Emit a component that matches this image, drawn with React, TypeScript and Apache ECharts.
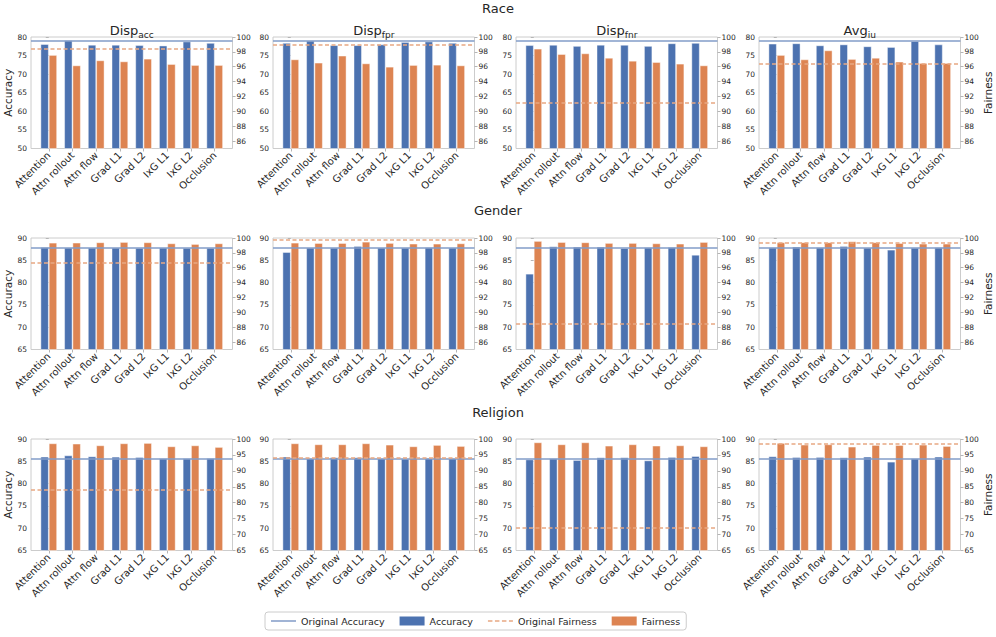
import React, { useEffect, useRef } from 'react';
import * as echarts from 'echarts';

const categories = ['Attention', 'Attn rollout', 'Attn flow', 'Grad L1', 'Grad L2', 'IxG L1', 'IxG L2', 'Occlusion'];
const rowNames = ['Race', 'Gender', 'Religion'];
const metricMain = ['Disp', 'Disp', 'Disp', 'Avg'];
const metricSub = ['acc', 'fpr', 'fnr', 'iu'];

// Original (baseline) accuracy per row
const originalAccuracy = [79.1, 87.83, 85.58];
// Original fairness per row, per metric column
const raceOriginalFairness = [98.38, 98.97, 91.15, 96.36];
const genderOriginalFairness = [96.73, 99.78, 88.43, 99.37];
const religionOriginalFairness = [84.22, 94.25, 72.1, 98.64];

// Race
const raceDispAccAccuracy = [78.1, 79.1, 77.9, 77.9, 77.8, 77.7, 78.8, 78.4];
const raceDispAccFairness = [97.58, 96.18, 96.86, 96.72, 97.08, 96.36, 96.23, 96.23];
const raceDispFprAccuracy = [78.4, 79.0, 77.8, 77.8, 78.0, 78.65, 78.8, 78.4];
const raceDispFprFairness = [96.99, 96.54, 97.49, 96.45, 96.0, 96.23, 96.27, 96.18];
const raceDispFnrAccuracy = [77.8, 77.9, 77.6, 77.9, 77.9, 77.6, 78.3, 78.4];
const raceDispFnrFairness = [98.43, 97.71, 97.8, 97.2, 96.8, 96.63, 96.41, 96.18];
const raceAvgIuAccuracy = [78.2, 78.3, 77.75, 78.0, 77.5, 77.3, 78.9, 78.0];
const raceAvgIuFairness = [97.58, 96.99, 98.2, 97.04, 97.2, 96.68, 96.5, 96.5];

// Gender
const genderDispAccAccuracy = [87.95, 87.85, 87.85, 87.85, 87.8, 87.85, 87.8, 87.8];
const genderDispAccFairness = [99.37, 99.37, 99.42, 99.46, 99.42, 99.28, 99.19, 99.28];
const genderDispFprAccuracy = [86.85, 87.83, 87.83, 88.2, 87.83, 87.83, 87.9, 87.83];
const genderDispFprFairness = [99.37, 99.33, 99.33, 99.5, 99.33, 99.24, 99.24, 99.28];
const genderDispFnrAccuracy = [81.99, 88.13, 88.05, 88.05, 87.75, 87.9, 87.98, 86.25];
const genderDispFnrFairness = [99.6, 99.46, 99.42, 99.33, 99.33, 99.28, 99.24, 99.46];
const genderAvgIuAccuracy = [87.9, 88.05, 87.9, 88.2, 87.83, 87.38, 87.83, 87.9];
const genderAvgIuFairness = [99.42, 99.42, 99.42, 99.55, 99.42, 99.33, 99.24, 99.24];

// Religion
const religionDispAccAccuracy = [86.03, 86.33, 86.1, 86.03, 85.96, 85.66, 85.66, 85.73];
const religionDispAccFairness = [98.64, 98.54, 98.01, 98.64, 98.75, 97.7, 98.0, 97.49];
const religionDispFprAccuracy = [86.03, 85.66, 85.88, 85.88, 85.66, 85.58, 85.73, 85.66];
const religionDispFprFairness = [98.64, 98.33, 98.33, 98.64, 98.22, 97.7, 98.12, 97.8];
const religionDispFnrAccuracy = [85.43, 85.66, 85.28, 85.88, 85.88, 85.2, 85.96, 86.18];
const religionDispFnrFairness = [98.95, 98.33, 98.95, 97.91, 98.33, 97.91, 98.01, 97.7];
const religionAvgIuAccuracy = [86.1, 85.96, 85.96, 85.88, 86.03, 84.91, 85.66, 86.03];
const religionAvgIuFairness = [98.75, 98.22, 98.33, 97.6, 98.12, 98.12, 98.22, 97.8];

// Axis ranges / ticks per row
const accuracyMin = [50, 65, 65];
const accuracyMax = [80, 90, 90];
const fairnessMin = [85, 85, 65];
const fairnessMax = [100, 100, 100];
const fairnessTicksRaceGender = [86, 88, 90, 92, 94, 96, 98, 100];
const fairnessTicksReligion = [65, 70, 75, 80, 85, 90, 95, 100];

const accuracyRows = [
  [raceDispAccAccuracy, raceDispFprAccuracy, raceDispFnrAccuracy, raceAvgIuAccuracy],
  [genderDispAccAccuracy, genderDispFprAccuracy, genderDispFnrAccuracy, genderAvgIuAccuracy],
  [religionDispAccAccuracy, religionDispFprAccuracy, religionDispFnrAccuracy, religionAvgIuAccuracy],
];
const fairnessRows = [
  [raceDispAccFairness, raceDispFprFairness, raceDispFnrFairness, raceAvgIuFairness],
  [genderDispAccFairness, genderDispFprFairness, genderDispFnrFairness, genderAvgIuFairness],
  [religionDispAccFairness, religionDispFprFairness, religionDispFnrFairness, religionAvgIuFairness],
];
const originalFairnessRows = [raceOriginalFairness, genderOriginalFairness, religionOriginalFairness];

const FONT = 'DejaVu Sans';
const TXT = '#262626';
const BLUE = '#4C72B0';
const ORANGE = '#DD8452';
const LBLUE = '#829cc8';
const LORANGE = '#e8a883';
const SPINE = '#cccccc';
const TICK = '#b5b5b5';

const colLeft = [31, 273, 516, 759];
const rowTop = [37, 238, 439];
const plotW = 201.5;
const plotH = 111.5;

// legend icons (25 x 9 box, thin line in the middle)
const ICON_SOLID = 'path://M0,0L0.01,0M0,3.7L25,3.7L25,5.3L0,5.3ZM0,9L0.01,9';
const ICON_DASHED =
  'path://M0,0L0.01,0M0,3.7L4.5,3.7L4.5,5.3L0,5.3ZM7,3.7L11.5,3.7L11.5,5.3L7,5.3ZM14,3.7L18.5,3.7L18.5,5.3L14,5.3ZM21,3.7L25,3.7L25,5.3L21,5.3ZM0,9L0.01,9';

function buildOption() {
  const grid: any[] = [];
  const xAxis: any[] = [];
  const yAxis: any[] = [];
  const series: any[] = [];
  const graphic: any[] = [];
  const xIdx = categories.map((_, i) => i);

  for (let r = 0; r < 3; r++) {
    for (let c = 0; c < 4; c++) {
      const p = r * 4 + c;
      grid.push({
        left: colLeft[c], top: rowTop[r], width: plotW, height: plotH,
        show: true, borderColor: SPINE, borderWidth: 1, backgroundColor: 'transparent',
      });
      xAxis.push({
        gridIndex: p, type: 'value', min: -0.75, max: 7.75,
        axisLine: { show: false },
        splitLine: { show: false },
        axisTick: { show: true, customValues: xIdx, length: 3, lineStyle: { color: TICK } },
        axisLabel: {
          customValues: xIdx, rotate: 45, fontSize: 10, fontFamily: FONT, color: TXT, margin: 5,
          formatter: (v: number) => categories[Math.round(v)],
        },
      });
      yAxis.push({
        gridIndex: p, type: 'value', position: 'left',
        min: accuracyMin[r], max: accuracyMax[r], interval: 5,
        axisLine: { show: false }, splitLine: { show: false },
        axisTick: { show: true, length: 3, lineStyle: { color: TICK } },
        axisLabel: { fontSize: 7.5, fontFamily: FONT, color: TXT, margin: 4 },
        name: c === 0 ? 'Accuracy' : '', nameLocation: 'middle', nameGap: 18,
        nameTextStyle: { fontSize: 10.5, fontFamily: FONT, color: TXT },
      });
      const fTicks = r < 2 ? fairnessTicksRaceGender : fairnessTicksReligion;
      yAxis.push({
        gridIndex: p, type: 'value', position: 'right',
        min: fairnessMin[r], max: fairnessMax[r],
        axisLine: { show: false }, splitLine: { show: false },
        axisTick: { show: true, length: 3, customValues: fTicks, lineStyle: { color: TICK } },
        axisLabel: { fontSize: 7.5, fontFamily: FONT, color: TXT, margin: 4, customValues: fTicks },
        name: c === 3 ? 'Fairness' : '', nameLocation: 'middle', nameGap: 19,
        nameTextStyle: { fontSize: 10.5, fontFamily: FONT, color: TXT },
      });
      const acc = accuracyRows[r][c];
      const fair = fairnessRows[r][c];
      series.push({
        type: 'bar', name: 'Accuracy', xAxisIndex: p, yAxisIndex: 2 * p,
        data: acc.map((v, i) => [i, v]),
        barWidth: '35%', barGap: '0%',
        itemStyle: { color: BLUE, borderColor: 'rgba(255,255,255,0.55)', borderWidth: 0.8 },
        emphasis: { disabled: true },
        markLine: {
          silent: true, symbol: ['none', 'none'], label: { show: false },
          lineStyle: { color: LBLUE, width: 1.5, type: 'solid' },
          data: [{ yAxis: originalAccuracy[r] }],
        },
      });
      series.push({
        type: 'bar', name: 'Fairness', xAxisIndex: p, yAxisIndex: 2 * p + 1,
        data: fair.map((v, i) => [i, v]),
        barWidth: '35%', barGap: '0%',
        itemStyle: { color: ORANGE, borderColor: 'rgba(255,255,255,0.55)', borderWidth: 0.8 },
        emphasis: { disabled: true },
        markLine: {
          silent: true, symbol: ['none', 'none'], label: { show: false },
          lineStyle: { color: LORANGE, width: 1.5, type: [4, 2.5] },
          data: [{ yAxis: originalFairnessRows[r][c] }],
        },
      });
    }
  }

  series.unshift({
    type: 'line', name: 'Original Accuracy', data: [], symbol: 'none',
    xAxisIndex: 0, yAxisIndex: 0,
    itemStyle: { color: LBLUE }, lineStyle: { color: LBLUE, width: 1.5 },
  });
  series.push({
    type: 'line', name: 'Original Fairness', data: [], symbol: 'none',
    xAxisIndex: 0, yAxisIndex: 1,
    itemStyle: { color: LORANGE }, lineStyle: { color: LORANGE, width: 1.5, type: [4, 2.5] },
  });

  const rowTitleY = [8, 210, 412];
  rowNames.forEach((name, r) => {
    graphic.push({
      type: 'text', x: 498, y: rowTitleY[r],
      style: { text: name, fontSize: 13, fontFamily: FONT, fill: TXT, align: 'center', verticalAlign: 'middle' },
    });
  });
  for (let c = 0; c < 4; c++) {
    graphic.push({
      type: 'text', x: colLeft[c] + plotW / 2, y: 30,
      style: {
        text: `{a|${metricMain[c]}}{b|${metricSub[c]}}`,
        align: 'center', verticalAlign: 'middle',
        rich: {
          a: { fontSize: 13, fontFamily: FONT, fill: TXT, lineHeight: 18, verticalAlign: 'middle' },
          b: { fontSize: 9, fontFamily: FONT, fill: TXT, lineHeight: 9, verticalAlign: 'bottom' },
        },
      },
    });
  }

  return {
    animation: false,
    backgroundColor: '#ffffff',
    textStyle: { fontFamily: FONT },
    grid, xAxis, yAxis, series, graphic,
    legend: {
      left: 265, top: 612,
      itemWidth: 25, itemHeight: 9, itemGap: 15,
      borderColor: SPINE, borderWidth: 1, borderRadius: 3, padding: [4, 6],
      textStyle: { fontSize: 9.5, fontFamily: FONT, color: TXT },
      itemStyle: { borderWidth: 0 },
      data: [
        { name: 'Original Accuracy', icon: ICON_SOLID, itemStyle: { color: LBLUE, borderWidth: 0 } },
        { name: 'Accuracy', icon: 'rect' },
        { name: 'Original Fairness', icon: ICON_DASHED, itemStyle: { color: LORANGE, borderWidth: 0 } },
        { name: 'Fairness', icon: 'rect' },
      ],
      selectedMode: false,
    },
  };
}

export default function App() {
  const ref = useRef<HTMLDivElement>(null);
  useEffect(() => {
    if (!ref.current) return;
    const chart = echarts.init(ref.current, undefined, { renderer: 'svg' });
    chart.setOption(buildOption() as any);
    return () => chart.dispose();
  }, []);
  return <div ref={ref} style={{ position: 'fixed', left: 0, top: 0, width: 996, height: 637 }} />;
}
